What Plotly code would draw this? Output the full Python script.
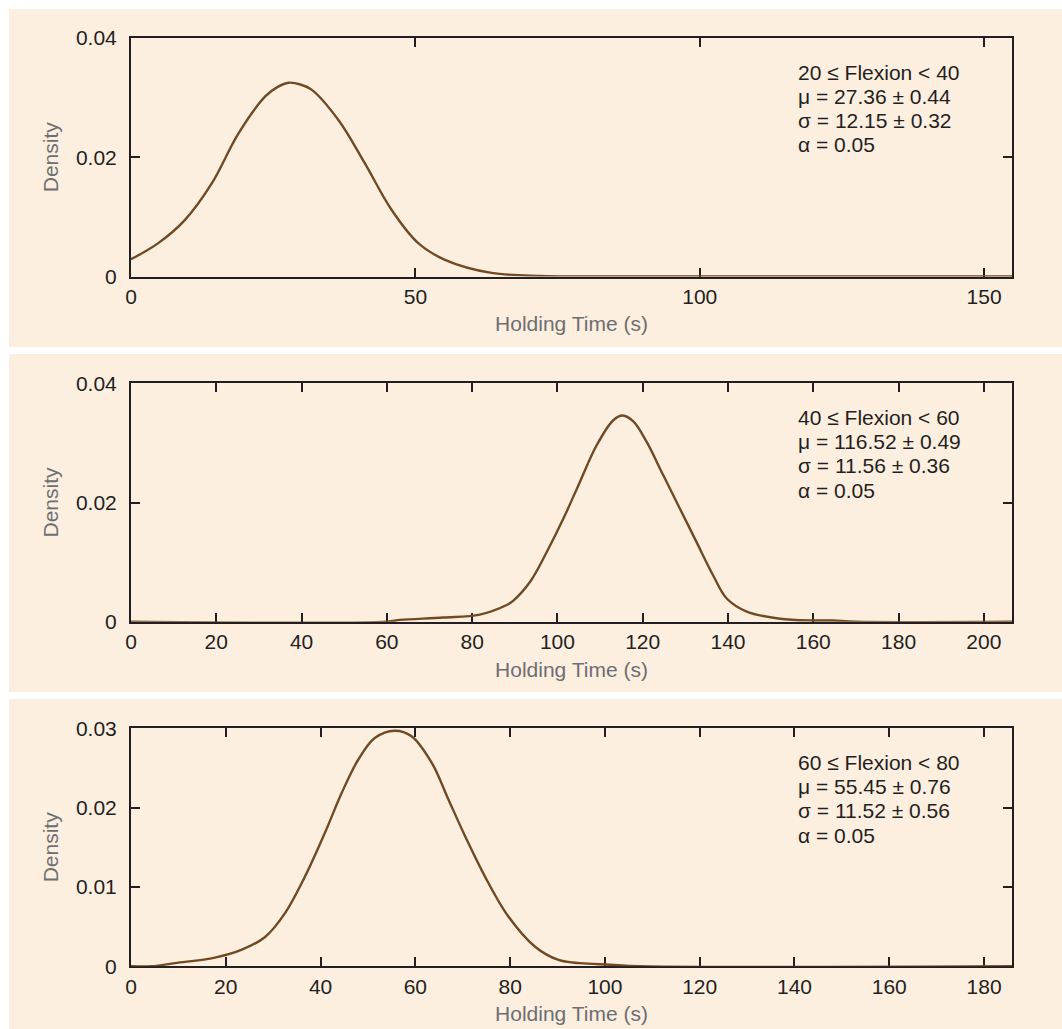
import plotly.graph_objects as go
from plotly.subplots import make_subplots

# ---- density curves: holding time (s) vs. density, one per flexion band ----
time_20_40 = [0, 4.8, 9.5, 14.2, 18.9, 23.6, 25.8, 27.7, 29.8, 31.8, 36.5, 41.1, 45.8,
              50.5, 55.2, 63.4, 72.2, 77.2, 155]
dens_20_40 = [0.0029, 0.0056, 0.0095, 0.0156, 0.0240, 0.0302, 0.0318, 0.0325, 0.0322,
              0.0313, 0.0262, 0.0190, 0.0112, 0.0056, 0.0028, 0.0006, 0.0001, 0.0, 0.0]

time_40_60 = [0, 60, 63.1, 73.2, 81.8, 88.1, 89.6, 93.6, 97.5, 101.4, 105.3, 109.2,
              113.1, 115.3, 117.8, 120.9, 124.8, 128.7, 132.6, 136.5, 139.7, 144.4,
              152.2, 160.0, 164.6, 169.8, 206.6]
dens_40_60 = [0, 0, 0.0003, 0.0007, 0.0012, 0.0028, 0.0035, 0.0067, 0.0117, 0.0173,
              0.0235, 0.0296, 0.0338, 0.0346, 0.0336, 0.0302, 0.0246, 0.0190, 0.0134,
              0.0078, 0.0039, 0.0017, 0.0005, 0.0002, 0.0002, 0.0, 0.0]

time_60_80 = [0, 4.4, 9.3, 17.7, 23.4, 28.3, 32.5, 36.7, 40.9, 44.5, 48.0, 51.5, 55.6,
              59.2, 63.5, 67.0, 70.5, 74.7, 79.6, 85.2, 90.2, 94.7, 101.1, 107.4, 185.9]
dens_60_80 = [0, 0, 0.0004, 0.0011, 0.0021, 0.0037, 0.0067, 0.0113, 0.0168, 0.0219,
              0.0261, 0.0288, 0.0297, 0.0290, 0.0256, 0.0210, 0.0164, 0.0113, 0.0063,
              0.0025, 0.0008, 0.0004, 0.0002, 0.0, 0.0]

# ---- fitted parameters per band ----
band_labels = ["20 ≤ Flexion < 40", "40 ≤ Flexion < 60", "60 ≤ Flexion < 80"]
mu_values = [27.36, 116.52, 55.45]
mu_errors = [0.44, 0.49, 0.76]
sigma_values = [12.15, 11.56, 11.52]
sigma_errors = [0.32, 0.36, 0.56]
alpha_values = [0.05, 0.05, 0.05]

# ---- axis settings per panel ----
x_max = [154.9, 206.6, 185.9]
x_step = [50, 20, 20]
y_max = [0.04, 0.04, 0.03]
y_step = [0.02, 0.02, 0.01]

x_title = "Holding Time (s)"
y_title = "Density"

W, H = 1062, 1029
FONT = "Liberation Sans, Arial, Helvetica, sans-serif"
INK = "#231F20"
CURVE = "#704A24"
PANEL_BG = "#FDEFE0"
TITLE_GREY = "#6D6E71"

# plot-area pixel boxes (left, right, top, bottom) and panel boxes
plot_boxes = [(131, 1012, 38, 276.5), (131, 1012, 383.3, 621.7), (131, 1012, 728.3, 966.3)]
panel_boxes = [(9, 1062, 9, 347), (9, 1062, 354, 692), (9, 1062, 699, 1029)]

series = [(time_20_40, dens_20_40), (time_40_60, dens_40_60), (time_60_80, dens_60_80)]

fig = make_subplots(rows=3, cols=1)

for i, (xs, ys) in enumerate(series):
    fig.add_trace(
        go.Scatter(x=xs, y=ys, mode="lines",
                   line=dict(color=CURVE, width=2.4, shape="spline", smoothing=1.0),
                   showlegend=False, hoverinfo="skip"),
        row=i + 1, col=1)

axis_common = dict(
    showline=True, linecolor=INK, linewidth=2, mirror="ticks",
    ticks="inside", ticklen=9, tickwidth=2, tickcolor=INK,
    showgrid=False, zeroline=False, layer="below traces", automargin=False,
    tickfont=dict(family=FONT, size=21, color=INK),
)

for i in range(3):
    l, r, t, b = plot_boxes[i]
    sfx = "" if i == 0 else str(i + 1)
    fig.layout["xaxis" + sfx].update(
        domain=[l / W, r / W], range=[0, x_max[i]], dtick=x_step[i], tick0=0,
        title=dict(text=x_title, font=dict(family=FONT, size=21, color=TITLE_GREY), standoff=10),
        **axis_common)
    fig.layout["yaxis" + sfx].update(
        domain=[1 - b / H, 1 - t / H], range=[0, y_max[i]], dtick=y_step[i], tick0=0,
        ticklabelstandoff=8,
        title=dict(text=y_title, font=dict(family=FONT, size=21, color=TITLE_GREY), standoff=12),
        **axis_common)

    # panel background
    pl, pr, pt, pb = panel_boxes[i]
    fig.add_shape(type="rect", xref="paper", yref="paper",
                  x0=pl / W, x1=pr / W, y0=1 - pb / H, y1=1 - pt / H,
                  fillcolor=PANEL_BG, line=dict(width=0), layer="below")

    # fitted-parameter text block
    lines = [
        band_labels[i].replace("<", "&lt;"),
        f"μ = {mu_values[i]:.2f} ± {mu_errors[i]:.2f}",
        f"σ = {sigma_values[i]:.2f} ± {sigma_errors[i]:.2f}",
        f"α = {alpha_values[i]:.2f}",
    ]
    for k, txt in enumerate(lines):
        fig.add_annotation(
            text=txt, xref=f"x{sfx} domain", yref=f"y{sfx} domain",
            x=(796 - l) / (r - l), y=1, xanchor="left", yanchor="middle",
            yshift=-(34 + 24.3 * k), showarrow=False,
            font=dict(family=FONT, size=21, color=INK))

fig.update_layout(
    width=W, height=H, margin=dict(l=0, r=0, t=0, b=0),
    paper_bgcolor="white", plot_bgcolor="rgba(0,0,0,0)",
    font=dict(family=FONT, size=21, color=INK),
)

fig.write_html("out.html")
